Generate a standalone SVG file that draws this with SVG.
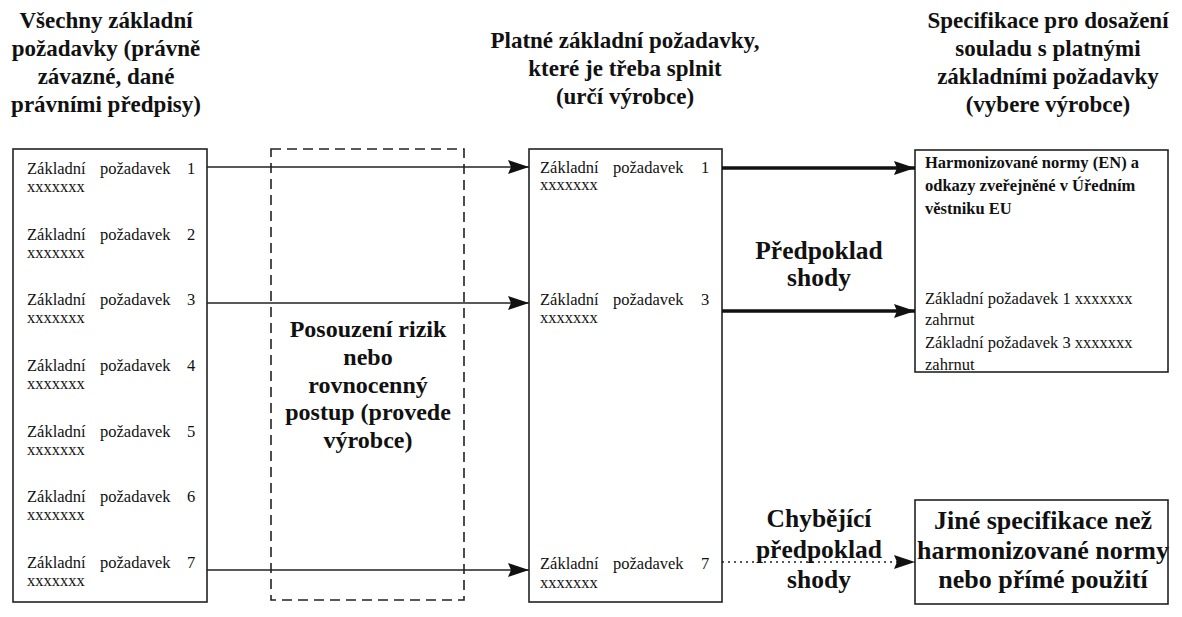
<svg xmlns="http://www.w3.org/2000/svg" width="1182" height="617" viewBox="0 0 1182 617">
<style>
text{font-family:"Liberation Serif","DejaVu Serif",serif;fill:#111}
.h{font-size:23px;font-weight:bold;text-anchor:middle}
.p{font-size:24px;font-weight:bold;text-anchor:middle}
.m{font-size:25.5px;font-weight:bold;text-anchor:middle}
.j{font-size:26px;font-weight:bold;text-anchor:middle}
.i{font-size:16.5px}
.b{font-size:16.5px;font-weight:bold}
.s{font-size:16.5px}
.box{fill:#fff;stroke:#222;stroke-width:1.6}
.dash{fill:none;stroke:#222;stroke-width:1.6;stroke-dasharray:10 6}
.ln{fill:none;stroke:#222;stroke-width:1.6}
.thick{fill:none;stroke:#111;stroke-width:3.5}
.dot{fill:none;stroke:#222;stroke-width:1.3;stroke-dasharray:2 4}
</style>
<defs>
<marker id="ah" markerUnits="userSpaceOnUse" markerWidth="22" markerHeight="14" refX="21" refY="7" orient="auto">
<path d="M0,0 L21,7 L0,14 L3,7 Z" fill="#111"/>
</marker>
</defs>
<rect width="1182" height="617" fill="#fff"/>

<g id="headings">
<text class="h" x="106" y="28">Všechny základní</text>
<text class="h" x="106" y="56">požadavky (právně</text>
<text class="h" x="106" y="84">závazné, dané</text>
<text class="h" x="106" y="112">právními předpisy)</text>
<text class="h" x="625" y="48">Platné základní požadavky,</text>
<text class="h" x="625" y="76">které je třeba splnit</text>
<text class="h" x="625" y="104">(určí výrobce)</text>
<text class="h" x="1048" y="28">Specifikace pro dosažení</text>
<text class="h" x="1048" y="56">souladu s platnými</text>
<text class="h" x="1048" y="84">základními požadavky</text>
<text class="h" x="1048" y="112">(vybere výrobce)</text>
</g>

<g id="all-requirements">
<rect class="box" x="13" y="149" width="194" height="453"/>
<text class="i" y="174"><tspan x="27">Základní</tspan><tspan x="100">požadavek</tspan><tspan x="187">1</tspan></text>
<text class="i" x="27" y="192">xxxxxxx</text>
<text class="i" y="240"><tspan x="27">Základní</tspan><tspan x="100">požadavek</tspan><tspan x="187">2</tspan></text>
<text class="i" x="27" y="258">xxxxxxx</text>
<text class="i" y="305"><tspan x="27">Základní</tspan><tspan x="100">požadavek</tspan><tspan x="187">3</tspan></text>
<text class="i" x="27" y="323">xxxxxxx</text>
<text class="i" y="371"><tspan x="27">Základní</tspan><tspan x="100">požadavek</tspan><tspan x="187">4</tspan></text>
<text class="i" x="27" y="389">xxxxxxx</text>
<text class="i" y="437"><tspan x="27">Základní</tspan><tspan x="100">požadavek</tspan><tspan x="187">5</tspan></text>
<text class="i" x="27" y="455">xxxxxxx</text>
<text class="i" y="502"><tspan x="27">Základní</tspan><tspan x="100">požadavek</tspan><tspan x="187">6</tspan></text>
<text class="i" x="27" y="520">xxxxxxx</text>
<text class="i" y="568"><tspan x="27">Základní</tspan><tspan x="100">požadavek</tspan><tspan x="187">7</tspan></text>
<text class="i" x="27" y="586">xxxxxxx</text>
</g>

<g id="risk-assessment">
<rect class="dash" x="271" y="149" width="193" height="451"/>
<text class="p" x="368" y="337">Posouzení rizik</text>
<text class="p" x="368" y="365">nebo</text>
<text class="p" x="368" y="393">rovnocenný</text>
<text class="p" x="368" y="420">postup (provede</text>
<text class="p" x="368" y="448">výrobce)</text>
</g>

<g id="applicable-requirements">
<rect class="box" x="529" y="149" width="193" height="453"/>
<text class="i" y="173"><tspan x="540">Základní</tspan><tspan x="613">požadavek</tspan><tspan x="701">1</tspan></text>
<text class="i" x="540" y="190">xxxxxxx</text>
<text class="i" y="305"><tspan x="540">Základní</tspan><tspan x="613">požadavek</tspan><tspan x="701">3</tspan></text>
<text class="i" x="540" y="323">xxxxxxx</text>
<text class="i" y="569"><tspan x="540">Základní</tspan><tspan x="613">požadavek</tspan><tspan x="701">7</tspan></text>
<text class="i" x="540" y="588">xxxxxxx</text>
</g>

<g id="harmonised-standards">
<rect class="box" x="915" y="150" width="253" height="222"/>
<text class="b" x="925" y="168">Harmonizované normy (EN) a</text>
<text class="b" x="925" y="191">odkazy zveřejněné v Úředním</text>
<text class="b" x="925" y="214">věstniku EU</text>
<text class="s" x="925" y="304">Základní požadavek 1 xxxxxxx</text>
<text class="s" x="925" y="325">zahrnut</text>
<text class="s" x="925" y="348">Základní požadavek 3 xxxxxxx</text>
<text class="s" x="925" y="370">zahrnut</text>
</g>

<g id="other-specifications">
<rect class="box" x="915" y="500" width="253" height="104"/>
<text class="j" x="1043" y="529">Jiné specifikace než</text>
<text class="j" x="1043" y="559">harmonizované normy</text>
<text class="j" x="1043" y="588">nebo přímé použití</text>
</g>

<g id="connectors">
<line class="ln" x1="207" y1="167" x2="529" y2="167" marker-end="url(#ah)"/>
<line class="ln" x1="207" y1="303" x2="529" y2="303" marker-end="url(#ah)"/>
<line class="ln" x1="207" y1="570" x2="529" y2="570" marker-end="url(#ah)"/>
<line class="thick" x1="722" y1="168" x2="915" y2="168" marker-end="url(#ah)"/>
<line class="thick" x1="722" y1="311" x2="915" y2="311" marker-end="url(#ah)"/>
<line class="dot" x1="722" y1="562" x2="915" y2="562" marker-end="url(#ah)"/>
</g>

<g id="labels">
<text class="m" x="819" y="259">Předpoklad</text>
<text class="m" x="819" y="286">shody</text>
<text class="m" x="819" y="527">Chybějící</text>
<text class="m" x="819" y="558">předpoklad</text>
<text class="m" x="819" y="588">shody</text>
</g>
</svg>
